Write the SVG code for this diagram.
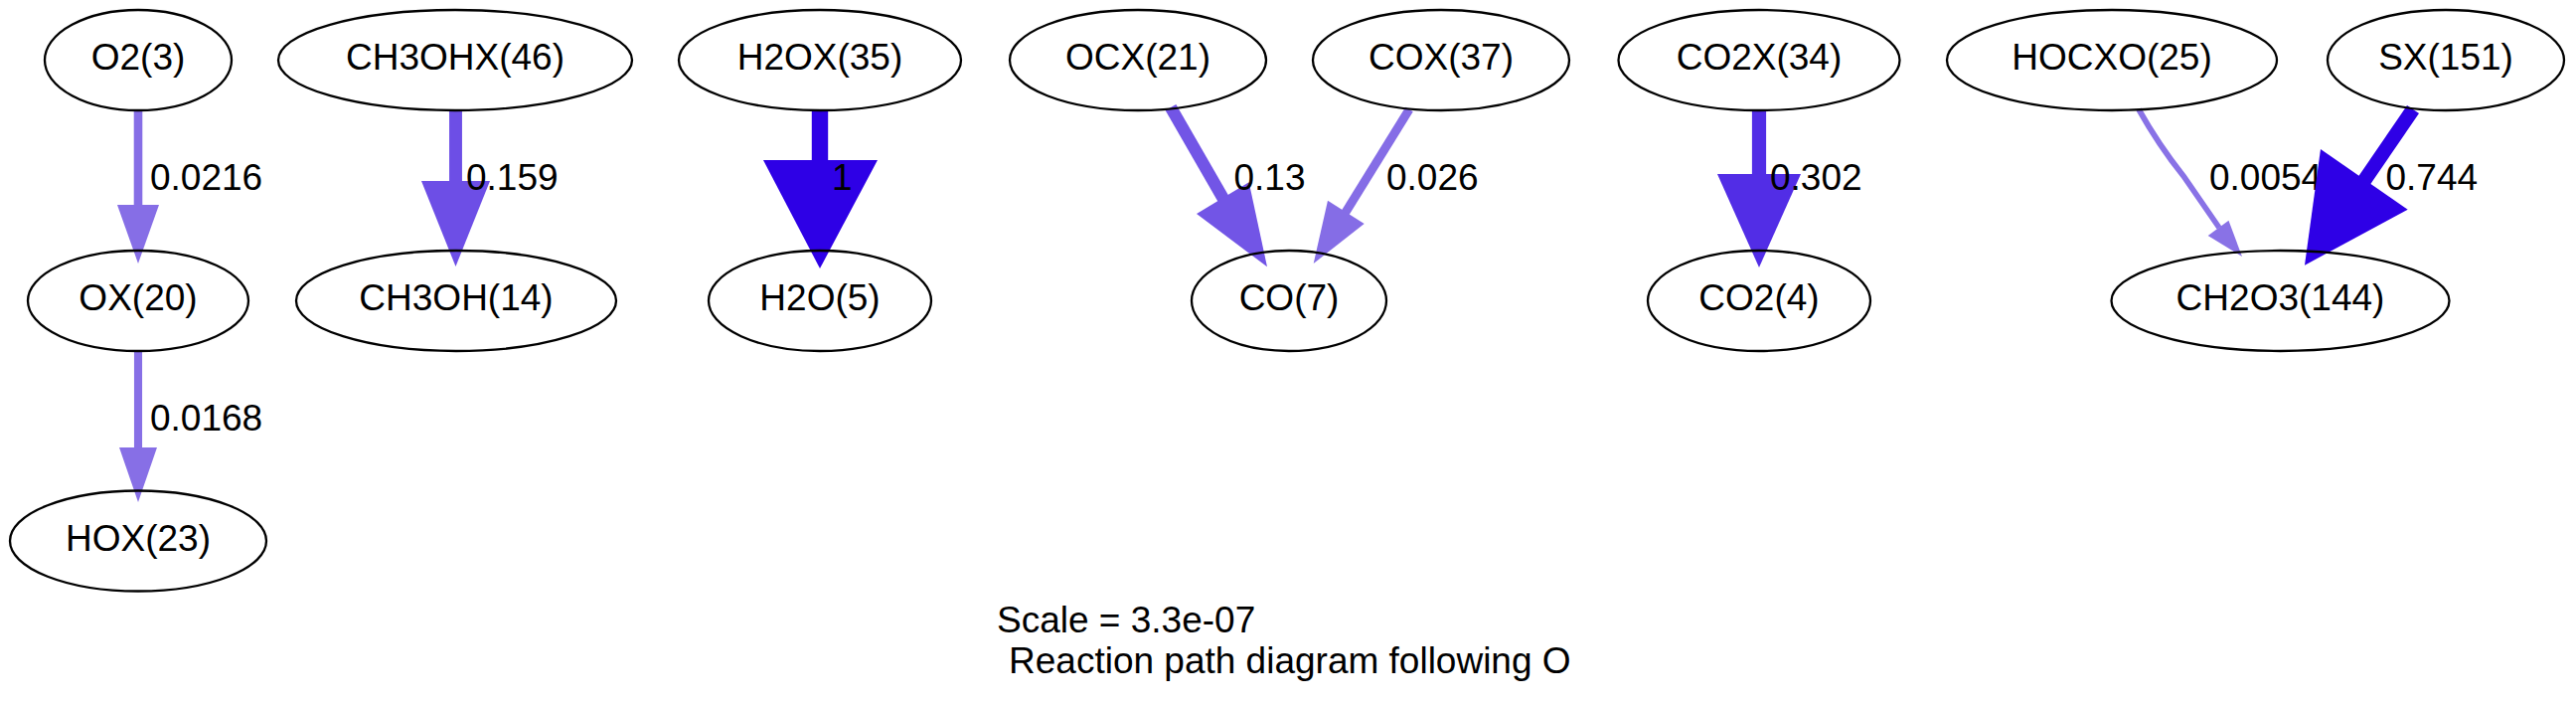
<svg xmlns="http://www.w3.org/2000/svg" width="2592" height="711" viewBox="0 0 2592 711">
<style>
.n ellipse{fill:none;stroke:#000;stroke-width:2.3}
text{font-family:"Liberation Sans",Arial,sans-serif;font-size:37px;fill:#000}
.n text{text-anchor:middle}
.e line,.e path{fill:none;stroke-linecap:butt}
</style>
<rect width="2592" height="711" fill="#fff"/>
<g id="connectors" class="e">
<g id="e-O2-OX"><line x1="139" y1="111" x2="139" y2="208" stroke="#866EE6" stroke-width="8.6"/><polygon points="118,206 160,206 139,265" fill="#866EE6"/><text x="151" y="191">0.0216</text></g>
<g id="e-OX-HOX"><line x1="139" y1="353" x2="139" y2="452" stroke="#876FE6" stroke-width="8.1"/><polygon points="120,450 158,450 139,505" fill="#876FE6"/><text x="151" y="433">0.0168</text></g>
<g id="e-CH3OHX-CH3OH"><line x1="458.5" y1="111" x2="458.5" y2="184" stroke="#6D4EE6" stroke-width="12.9"/><polygon points="424,182 493,182 458.5,268" fill="#6D4EE6"/><text x="469" y="191">0.159</text></g>
<g id="e-H2OX-H2O"><line x1="825" y1="111" x2="825" y2="163" stroke="#2E00E6" stroke-width="16.4"/><polygon points="768,161 883,161 825,270" fill="#2E00E6"/><text x="837" y="191">1</text></g>
<g id="e-OCX-CO"><line x1="1178" y1="108" x2="1231" y2="200" stroke="#7255E6" stroke-width="12.4"/><polygon points="1204,215 1256.7,183.3 1275,268.3" fill="#7255E6"/><text x="1241.5" y="191">0.13</text></g>
<g id="e-COX-CO"><line x1="1418" y1="110" x2="1353" y2="215" stroke="#856DE6" stroke-width="9"/><polygon points="1336,201.7 1372.7,225 1321.7,265" fill="#856DE6"/><text x="1395" y="191">0.026</text></g>
<g id="e-CO2X-CO2"><line x1="1770" y1="111" x2="1770" y2="177" stroke="#522DE6" stroke-width="14.2"/><polygon points="1728,175 1812,175 1770,269" fill="#522DE6"/><text x="1781" y="191">0.302</text></g>
<g id="e-HOCXO-CH2O3"><path d="M2152,110 C2166,135 2185,162 2197,177 C2210,196 2222,213 2233,229" stroke="#8972E6" stroke-width="5.7"/><polygon points="2221.7,237 2242.5,221.7 2256,258" fill="#8972E6"/><text x="2223" y="191">0.0054</text></g>
<g id="e-SX-CH2O3"><line x1="2428" y1="110" x2="2378" y2="183" stroke="#2E00E6" stroke-width="14.5"/><polygon points="2335,150 2422.7,210.7 2319,266.7" fill="#2E00E6"/><text x="2400.5" y="191">0.744</text></g>
</g>
<g id="O2" class="n"><ellipse cx="139" cy="60.5" rx="94" ry="50.5"/><text x="139" y="70">O2(3)</text></g>
<g id="CH3OHX" class="n"><ellipse cx="458" cy="60.5" rx="178" ry="50.5"/><text x="458" y="70">CH3OHX(46)</text></g>
<g id="H2OX" class="n"><ellipse cx="825" cy="60.5" rx="142" ry="50.5"/><text x="825" y="70">H2OX(35)</text></g>
<g id="OCX" class="n"><ellipse cx="1145" cy="60.5" rx="129" ry="50.5"/><text x="1145" y="70">OCX(21)</text></g>
<g id="COX" class="n"><ellipse cx="1450" cy="60.5" rx="129" ry="50.5"/><text x="1450" y="70">COX(37)</text></g>
<g id="CO2X" class="n"><ellipse cx="1770" cy="60.5" rx="141.5" ry="50.5"/><text x="1770" y="70">CO2X(34)</text></g>
<g id="HOCXO" class="n"><ellipse cx="2125" cy="60.5" rx="166" ry="50.5"/><text x="2125" y="70">HOCXO(25)</text></g>
<g id="SX" class="n"><ellipse cx="2461" cy="60.5" rx="119" ry="50.5"/><text x="2461" y="70">SX(151)</text></g>
<g id="OX" class="n"><ellipse cx="139" cy="302.5" rx="111" ry="50.5"/><text x="139" y="312">OX(20)</text></g>
<g id="CH3OH" class="n"><ellipse cx="459" cy="302.5" rx="161" ry="50.5"/><text x="459" y="312">CH3OH(14)</text></g>
<g id="H2O" class="n"><ellipse cx="825" cy="302.5" rx="112" ry="50.5"/><text x="825" y="312">H2O(5)</text></g>
<g id="CO" class="n"><ellipse cx="1297" cy="302.5" rx="98" ry="50.5"/><text x="1297" y="312">CO(7)</text></g>
<g id="CO2" class="n"><ellipse cx="1770" cy="302.5" rx="112" ry="50.5"/><text x="1770" y="312">CO2(4)</text></g>
<g id="CH2O3" class="n"><ellipse cx="2294.5" cy="302.5" rx="170" ry="50.5"/><text x="2294.5" y="312">CH2O3(144)</text></g>
<g id="HOX" class="n"><ellipse cx="139" cy="544" rx="129" ry="50.5"/><text x="139" y="554">HOX(23)</text></g>
<g id="label"><text x="1003" y="636">Scale = 3.3e-07</text><text x="1015" y="677">Reaction path diagram following O</text></g>
</svg>
